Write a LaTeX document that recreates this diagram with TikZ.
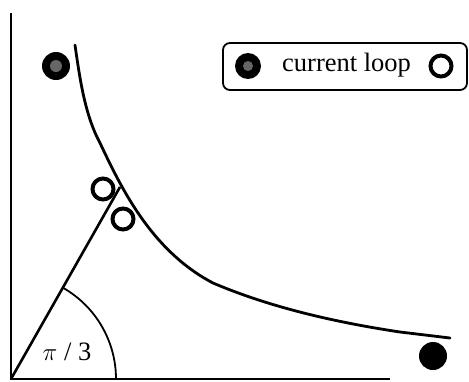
\documentclass[tikz,border=0pt]{standalone}
\usepackage{fontspec}
\setmainfont{Liberation Serif}
\begin{document}
\begin{tikzpicture}[x=1pt,y=-1pt,
  axis/.style={line width=2.2pt},
  curve/.style={line width=2.8pt, line cap=round},
  ring/.style={circle, draw, line width=4pt, minimum size=21pt, inner sep=0pt},
  dot/.style={circle, fill=black, minimum size=28pt, inner sep=0pt},
  lbl/.style={font=\fontsize{26.5}{28}\selectfont, inner sep=0pt}]
\useasboundingbox (0,0) rectangle (469,381);
% axes
\coordinate (o) at (11,379);
\coordinate (ytop) at (11,13);
\coordinate (xend) at (390,379);
\draw[axis] (ytop) -- (o) -- (xend);
% line at pi/3
\coordinate (lend) at (120,187);
\draw[line width=2.6pt] (o) -- (lend);
\draw[line width=1.8pt] ([shift={(0:105)}]o) arc[start angle=0, end angle=-60, radius=105];
\node[lbl] (ang) at (67,352) {$\pi$ / 3};
% curve
\draw[curve] (75,45) .. controls (80,80) and (85,115) .. (100,143)
  .. controls (120,185) and (150,250) .. (213,283)
  .. controls (260,303) and (320,320) .. (400,332)
  -- (450,338);
% circles
\node[dot] (d1) at (56,66) {};
\fill[black!60] (d1.center) circle[radius=6];
\node[ring] (r1) at (103,189) {};
\node[ring] (r2) at (123,219) {};
\node[dot] (d2) at (433,356) {};
% legend
\draw[line width=1.8pt, rounded corners=7pt] (223,43) rectangle (467,90);
\node[dot, minimum size=26pt] (ld) at (248,66) {};
\fill[black!60] (ld.center) circle[radius=5];
\node[lbl, anchor=west] (lt) at (282,65) {current loop};
\node[ring] (lr) at (441,66) {};
\end{tikzpicture}
\end{document}
